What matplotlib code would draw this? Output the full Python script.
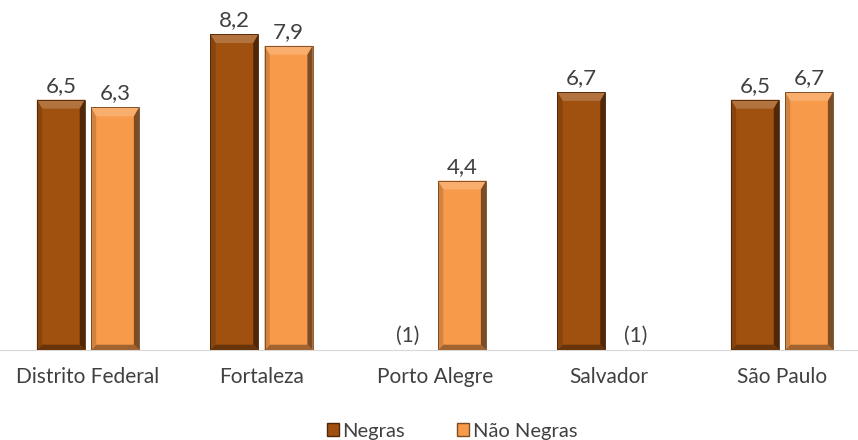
import numpy as np
import matplotlib.pyplot as plt
from matplotlib.patches import Rectangle, Polygon

cidades = ['Distrito Federal', 'Fortaleza', 'Porto Alegre', 'Salvador', 'São Paulo']
negras = [6.5, 8.2, None, 6.7, 6.5]
nao_negras = [6.3, 7.9, 4.4, None, 6.7]

cor_negras = '#A0500F'
cor_nao = '#F79A4A'

plt.rcParams['font.family'] = ['Lato', 'DejaVu Sans']

fig = plt.figure(figsize=(8.58, 4.4), dpi=100)
ax = fig.add_axes([0, 90 / 440, 1, 350 / 440])

x = np.arange(len(cidades))
w = 0.277
off = 0.156


def shade(c, f):
    c = np.array(plt.matplotlib.colors.to_rgb(c))
    if f > 0:
        return tuple(c + (1 - c) * f)
    return tuple(c * (1 + f))


def bevel_bar(xc, h, cor):
    # corpo da barra
    ax.bar(xc, h, w, color=cor, edgecolor='none', zorder=2)
    x0, x1 = xc - w / 2, xc + w / 2
    bx, by = 0.03, 0.23   # largura do chanfro (x) e altura (y)
    faces = [
        ([(x0, h), (x1, h), (x1 - bx, h - by), (x0 + bx, h - by)], 0.2),    # topo
        ([(x0, 0), (x1, 0), (x1 - bx, by * 0.6), (x0 + bx, by * 0.6)], -0.35),  # base
        ([(x1, 0), (x1, h), (x1 - bx, h - by), (x1 - bx, by * 0.6)], -0.5),  # direita
        ([(x0, 0), (x0, h), (x0 + bx, h - by), (x0 + bx, by * 0.6)], -0.15),  # esquerda
    ]
    for pts, f in faces:
        ax.add_patch(Polygon(pts, closed=True, facecolor=shade(cor, f), edgecolor='none', zorder=3))
    ax.add_patch(Rectangle((x0, 0), w, h, facecolor='none', edgecolor=shade(cor, -0.55),
                           linewidth=0.6, zorder=4))


for i in range(len(cidades)):
    for val, dx, cor in [(negras[i], -off, cor_negras), (nao_negras[i], off, cor_nao)]:
        if val is None:
            ax.text(x[i] + dx, 0.12, '(1)', ha='center', va='bottom', fontsize=15, color='#404040')
        else:
            bevel_bar(x[i] + dx, val, cor)
            ax.text(x[i] + dx, val + 0.1, f'{val:.1f}'.replace('.', ','), ha='center', va='bottom',
                    fontsize=16, color='#404040')

ax.set_xlim(-0.507, 4.438)
ax.set_ylim(0, 9.09)
ax.set_yticks([])
ax.set_xticks(x)
ax.set_xticklabels(cidades, fontsize=15, color='#404040')
ax.tick_params(axis='x', length=0, pad=12)
for s in ['top', 'right', 'left']:
    ax.spines[s].set_visible(False)
ax.spines['bottom'].set_color('#D9D9D9')

h1 = Rectangle((0, 0), 1, 1, facecolor=cor_negras, edgecolor=shade(cor_negras, -0.5))
h2 = Rectangle((0, 0), 1, 1, facecolor=cor_nao, edgecolor=shade(cor_nao, -0.5))
fig.legend([h1, h2], ['Negras', 'Não Negras'], loc='center', bbox_to_anchor=(0.527, 0.02),
           ncol=2, frameon=False, fontsize=14.5, handlelength=0.6, handleheight=0.6,
           handletextpad=0.15, columnspacing=2.6, labelcolor='#404040')

fig.savefig('out.png', dpi=100)
